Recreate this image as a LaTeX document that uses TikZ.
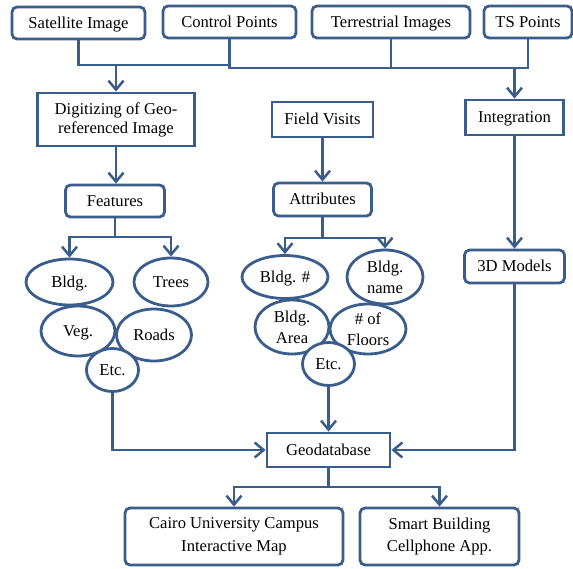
\documentclass[tikz,border=0pt]{standalone}
\usepackage{fontspec}
\setmainfont{Liberation Serif}
\usetikzlibrary{shapes.geometric,arrows.meta}
\definecolor{lineblue}{HTML}{3A5D8C}
\begin{document}
\begin{tikzpicture}[x=1pt,y=-1pt,
  every node/.style={font=\fontsize{16.6}{21}\selectfont, text=black, align=center, inner sep=0pt},
  sl/.style={text height=12.5pt, text depth=2.5pt},
  rbox/.style={draw=lineblue, line width=2.8pt, rounded corners=5pt, fill=white},
  sbox/.style={draw=lineblue, line width=2.8pt, fill=white},
  ell/.style={ellipse, draw=lineblue, line width=2.8pt, fill=white},
  conn/.style={draw=lineblue, line width=2.5pt},
  arr/.style={conn, -{Straight Barb[length=9pt,width=15pt]}}]
\useasboundingbox (0,0) rectangle (573,568);

% top row
\node[rbox, sl, minimum width=133pt, minimum height=32pt] (sat) at (78.5,23) {Satellite Image};
\node[rbox, sl, minimum width=133pt, minimum height=32pt] (ctrl) at (229.5,22) {Control Points};
\node[rbox, sl, minimum width=158pt, minimum height=32pt] (terr) at (391,22) {Terrestrial Images};
\node[rbox, sl, minimum width=88pt, minimum height=32pt] (ts) at (528,22) {TS Points};

% second row
\node[sbox, minimum width=157pt, minimum height=53pt, font=\fontsize{16.6}{19}\selectfont] (dig) at (116,119.5) {Digitizing of Geo-\\referenced Image};
\node[sbox, sl, minimum width=101pt, minimum height=35pt] (field) at (322.5,119.5) {Field Visits};
\node[sbox, sl, minimum width=98pt, minimum height=35pt] (integ) at (514.5,117.5) {Integration};

% third row
\node[rbox, sl, minimum width=99pt, minimum height=32pt] (feat) at (115,201) {Features};
\node[rbox, sl, minimum width=98pt, minimum height=33pt] (attr) at (322.5,199.5) {Attributes};
\node[rbox, sl, minimum width=100pt, minimum height=33pt] (models) at (514.5,266.5) {3D Models};

% feature ellipses
\node[ell, sl, minimum width=87pt, minimum height=46pt] (bldg) at (69.5,282) {Bldg.};
\node[ell, sl, minimum width=74pt, minimum height=48pt] (trees) at (171,282) {Trees};
\node[ell, sl, minimum width=74pt, minimum height=50pt] (veg) at (78,331) {Veg.};
\node[ell, sl, minimum width=75pt, minimum height=52pt] (roads) at (154,335) {Roads};
\node[ell, sl, minimum width=52pt, minimum height=43pt] (etcl) at (112.5,370) {Etc.};

% attribute ellipses
\node[ell, sl, minimum width=86pt, minimum height=43pt] (bnum) at (285,277) {Bldg. \#};
\node[ell, minimum width=76pt, minimum height=54pt] (bname) at (385,277) {Bldg.\\name};
\node[ell, minimum width=74pt, minimum height=54pt] (barea) at (292,327) {Bldg.\\Area};
\node[ell, minimum width=76pt, minimum height=50pt] (floors) at (368,329) {\# of\\Floors};
\node[ell, sl, minimum width=52pt, minimum height=43pt] (etcm) at (328.5,364) {Etc.};

% geodatabase and outputs
\node[sbox, sl, minimum width=123pt, minimum height=34pt] (geo) at (328.5,450) {Geodatabase};
\node[rbox, minimum width=218pt, minimum height=57pt, font=\fontsize{16.6}{23}\selectfont] (cairo) at (234,536.5) {Cairo University Campus\\Interactive Map};
\node[rbox, minimum width=159pt, minimum height=57pt, font=\fontsize{16.6}{22}\selectfont] (smart) at (439.5,536.5) {Smart Building\\Cellphone App.};

% junction coordinates
\coordinate (j1) at (dig.north |- 0,65);
\coordinate (j2) at (integ.north |- 0,68);
\coordinate (jf) at (feat.south |- 0,237);
\coordinate (ja) at (attr.south |- 0,238);
\coordinate (jg) at (geo.south |- 0,487);

% top connectors
\draw[conn] (sat.south) |- (ctrl.south |- j1) -- (ctrl.south);
\draw[conn] (ctrl.south) |- (ts.south |- j2) -- (ts.south);
\draw[conn] (terr.south) -- (terr.south |- j2);
\draw[arr] (j1) -- (dig.north);
\draw[arr] (j2) -- (integ.north);

% vertical flows
\draw[arr] (dig.south) -- (dig.south |- feat.north);
\draw[arr] (field.south) -- (attr.north);
\draw[arr] (integ.south) -- (models.north);

% feature branches
\draw[conn] (feat.south) -- (jf);
\draw[arr] (jf) -| (bldg.north);
\draw[arr] (jf) -| (trees.north);

% attribute branches
\draw[conn] (attr.south) -- (ja);
\draw[arr] (ja) -| (bnum.north);
\draw[arr] (ja) -| (bname.north);

% into geodatabase
\draw[arr] (etcl.south) |- (geo.west);
\draw[arr] (etcm.south) -- (geo.north);
\draw[arr] (models.south) |- (geo.east);

% outputs
\draw[conn] (geo.south) -- (jg);
\draw[arr] (jg) -| (cairo.north);
\draw[arr] (jg) -| (smart.north);
\end{tikzpicture}
\end{document}
